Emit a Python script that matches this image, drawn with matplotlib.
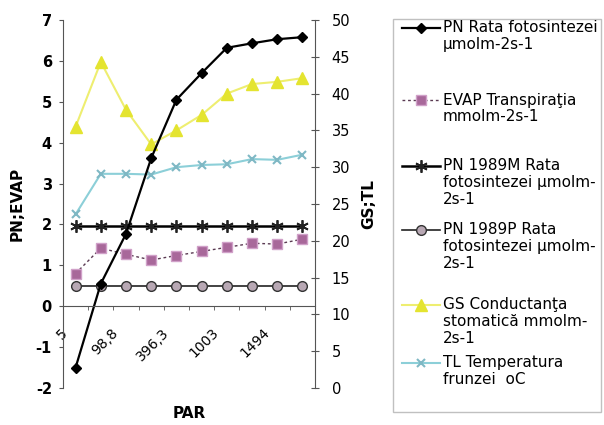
import numpy as np
import matplotlib.pyplot as plt
import matplotlib.transforms as mtransforms
from matplotlib.lines import Line2D
from matplotlib.patches import Rectangle

plt.rcParams['axes.unicode_minus'] = False

# PAR categories (only every second label is printed on the chart)
par_labels = ['5', '', '98,8', '', '396,3', '', '1003', '', '1494', '']

# left axis - PN;EVAP
pn = [-1.5, 0.55, 1.77, 3.62, 5.05, 5.70, 6.32, 6.43, 6.53, 6.58]
evap = [0.80, 1.42, 1.27, 1.13, 1.24, 1.34, 1.44, 1.54, 1.52, 1.64]
pn_1989m = [1.95, 1.95, 1.95, 1.95, 1.95, 1.95, 1.95, 1.95, 1.95, 1.95]
pn_1989p = [0.50, 0.50, 0.50, 0.50, 0.50, 0.50, 0.50, 0.50, 0.50, 0.50]

# right axis - GS;TL
gs = [35.5, 44.3, 37.8, 33.1, 35.0, 37.1, 40.0, 41.3, 41.6, 42.1]
tl = [23.6, 29.1, 29.1, 29.0, 30.0, 30.3, 30.4, 31.1, 31.0, 31.7]

legend_labels = [
    ['PN Rata fotosintezei', 'µmolm-2s-1'],
    ['EVAP Transpiraţia', 'mmolm-2s-1'],
    ['PN 1989M Rata', 'fotosintezei µmolm-', '2s-1'],
    ['PN 1989P Rata', 'fotosintezei µmolm-', '2s-1'],
    ['GS Conductanţa', 'stomatică mmolm-', '2s-1'],
    ['TL Temperatura', 'frunzei  oC'],
]

st_pn = dict(color='black', lw=1.6, marker='D', ms=5.5, mfc='black', mec='black')
st_evap = dict(color='#5a3a52', lw=1, ls=(0, (2, 2)), marker='s', ms=7,
               mfc='#a8689a', mec='#d0a0c8')
st_m = dict(color='black', lw=1.8, marker=(6, 2, 0), ms=9, mec='#222222', mew=1.3)
st_p = dict(color='#222222', lw=1.2, marker='o', ms=7, mfc='#b8a8b4', mec='#333333')
st_gs = dict(color='#eeee70', lw=1.5, marker='^', ms=8, mfc='#e4e430', mec='#e4e430')
st_tl = dict(color='#8ccfd8', lw=1.5, marker='x', ms=6, mec='#7fb8c4', mew=1.5)

W, H = 604, 425
fig = plt.figure(figsize=(W / 100, H / 100), dpi=100)
ax = fig.add_axes([63 / W, 1 - 388 / H, 252 / W, 368 / H])
ax2 = ax.twinx()

x = np.arange(len(par_labels))
ax2.plot(x, gs, **st_gs)
ax2.plot(x, tl, **st_tl)
ax.plot(x, pn_1989p, **st_p)
ax.plot(x, evap, **st_evap)
ax.plot(x, pn_1989m, **st_m)
ax.plot(x, pn, **st_pn)

# left axis on top so the PN lines sit above GS/TL
ax.set_zorder(ax2.get_zorder() + 1)
ax.patch.set_visible(False)

ax.set_xlim(-0.5, 9.5)
ax.set_ylim(-2, 7)
ax.set_yticks(range(-2, 8))
ax2.set_ylim(0, 50)
ax2.set_yticks(range(0, 51, 5))

for s in ['top', 'right']:
    ax.spines[s].set_visible(False)
for s in ['top', 'left', 'bottom']:
    ax2.spines[s].set_visible(False)
ax.spines['bottom'].set_position(('data', 0))
ax.spines['left'].set_color('#555555')
ax.spines['bottom'].set_color('#555555')
ax2.spines['right'].set_color('#555555')

ax.set_xticks(x)
ax.set_xticklabels(par_labels, rotation=45, ha='right', fontsize=10)
ax.set_xticks(np.arange(0.5, 9.5, 1), minor=True)
ax.tick_params(axis='x', which='major', length=0, pad=14)
ax.tick_params(axis='x', which='minor', length=3, direction='out', color='#555555')
offset = mtransforms.ScaledTranslation(-5 / 100, 0, fig.dpi_scale_trans)
for lbl in ax.get_xticklabels():
    lbl.set_transform(lbl.get_transform() + offset)

ax.tick_params(axis='y', length=3, direction='out', pad=5, labelsize=10.5, color='#555555')
for lbl in ax.get_yticklabels():
    lbl.set_fontweight('bold')
ax2.tick_params(axis='y', length=6, direction='inout', pad=9, labelsize=10.5, color='#555555')

ax.set_ylabel('PN;EVAP', fontsize=11, fontweight='bold')
ax.yaxis.set_label_coords((25 - 63) / 252, 0.5)
ax2.set_ylabel('GS;TL', fontsize=11, fontweight='bold')
ax2.yaxis.set_label_coords((361 - 63) / 252, 0.5)
ax.set_xlabel('PAR', fontsize=11, fontweight='bold')
ax.xaxis.set_label_coords(0.5, (388 - 406) / 368)

# legend box, drawn by hand so the entries line up like the original
def fx(px):
    return px / W

def fy(py):
    return 1 - py / H

fig.patches.append(Rectangle((fx(393), fy(412)), fx(601) - fx(393), fy(19) - fy(412),
                             transform=fig.transFigure, fill=False, ec='#c0c0c0', lw=1))
legend_rows = [28, 100, 166, 230, 305, 363]
for style, lines, y0 in zip([st_pn, st_evap, st_m, st_p, st_gs, st_tl], legend_labels, legend_rows):
    fig.lines.append(Line2D([fx(402), fx(421), fx(440)], [fy(y0)] * 3, markevery=[1],
                            transform=fig.transFigure, **style))
    for k, line in enumerate(lines):
        fig.text(fx(443), fy(y0 + k * 16.7), line, fontsize=11, va='center', ha='left')

fig.savefig('out.png', dpi=100)
